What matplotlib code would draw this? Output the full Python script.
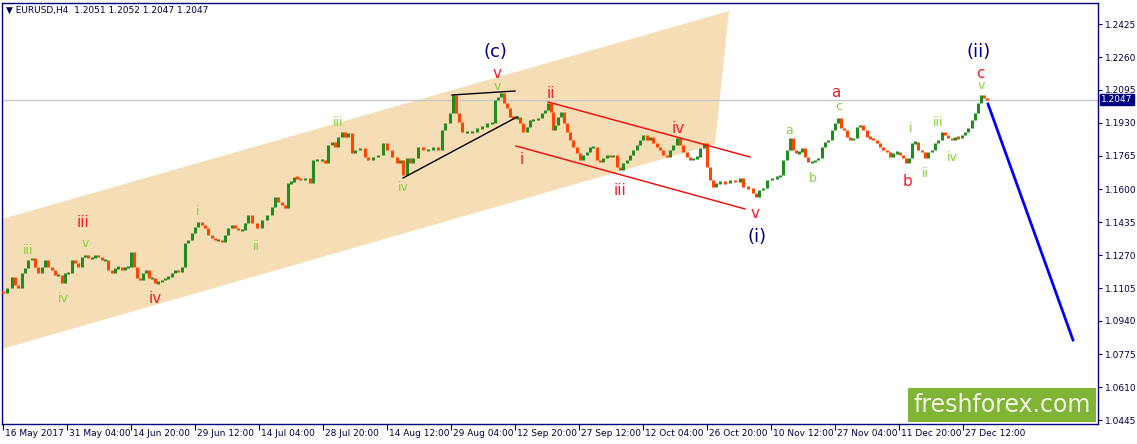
import numpy as np
import matplotlib.pyplot as plt
from matplotlib.patches import Polygon, Rectangle
import matplotlib.transforms as mtransforms

# EURUSD H4, bar number and close
bars = [3, 7, 12, 15, 18, 22, 25, 28, 32, 35, 38, 42, 45, 48, 52, 55, 58, 62, 65, 68,
        72, 75, 78, 82, 85, 88, 92, 95, 98, 102, 105, 108, 112, 115, 118, 122, 125, 128, 131, 134,
        137, 140, 143, 146, 149, 152, 155, 158, 162, 165, 168, 172, 175, 178, 182, 185, 188, 192, 195, 198,
        202, 205, 208, 212, 215, 218, 222, 225, 228, 232, 235, 238, 242, 245, 248, 252, 257, 262, 267, 272,
        275, 278, 282, 285, 288, 291, 294, 297, 300, 305, 310, 313, 317, 322, 325, 328, 332, 335, 338, 342,
        345, 348, 352, 355, 360, 365, 368, 373, 378, 383, 387, 392, 397, 400, 403, 407, 410, 413, 418, 423,
        428, 433, 438, 442, 445, 450, 453, 456, 459, 462, 467, 472, 477, 482, 487, 492, 495, 498, 501, 504,
        507, 510, 513, 517, 520, 523, 527, 530, 533, 538, 542, 545, 548, 551, 553, 555, 558, 561, 564, 567,
        570, 573, 577, 580, 583, 587, 590, 593, 597, 600, 603, 607, 610, 613, 617, 620, 623, 627, 630, 633,
        637, 640, 643, 647, 650, 653, 657, 660, 663, 667, 670, 673, 677, 680, 683, 687, 690, 693, 697, 700,
        704, 707, 710, 713, 716, 720, 725, 730, 735, 740, 743, 748, 753, 756, 759, 763, 767, 772, 777, 780,
        783, 787, 790, 793, 796, 799, 802, 805, 808, 812, 815, 818, 822, 825, 828, 832, 835, 838, 841, 844,
        847, 850, 853, 857, 860, 863, 867, 870, 873, 877, 880, 883, 887, 890, 893, 897, 900, 903, 906, 909,
        912, 915, 918, 922, 925, 928, 932, 935, 938, 942, 945, 948, 952, 955, 958, 962, 965, 968, 972, 975,
        978, 981, 984, 987]
close = [1.1080, 1.1105, 1.1160, 1.1120, 1.1105, 1.1180, 1.1205, 1.1245, 1.1255, 1.1210,
         1.1180, 1.1210, 1.1245, 1.1210, 1.1195, 1.1170, 1.1170, 1.1130, 1.1180, 1.1180,
         1.1245, 1.1230, 1.1210, 1.1260, 1.1270, 1.1255, 1.1255, 1.1270, 1.1260, 1.1245,
         1.1245, 1.1195, 1.1180, 1.1205, 1.1210, 1.1195, 1.1210, 1.1210, 1.1285, 1.1210,
         1.1155, 1.1145, 1.1180, 1.1195, 1.1155, 1.1155, 1.1130, 1.1135, 1.1145, 1.1155,
         1.1160, 1.1180, 1.1195, 1.1185, 1.1210, 1.1330, 1.1345, 1.1380, 1.1410, 1.1435,
         1.1420, 1.1405, 1.1370, 1.1355, 1.1345, 1.1345, 1.1335, 1.1370, 1.1405, 1.1420,
         1.1405, 1.1395, 1.1395, 1.1430, 1.1470, 1.1430, 1.1405, 1.1445, 1.1470, 1.1510,
         1.1560, 1.1535, 1.1520, 1.1505, 1.1630, 1.1635, 1.1660, 1.1655, 1.1645, 1.1655,
         1.1630, 1.1745, 1.1745, 1.1745, 1.1730, 1.1820, 1.1835, 1.1810, 1.1860, 1.1885,
         1.1860, 1.1880, 1.1780, 1.1795, 1.1805, 1.1760, 1.1745, 1.1760, 1.1770, 1.1830,
         1.1795, 1.1760, 1.1730, 1.1745, 1.1670, 1.1755, 1.1730, 1.1755, 1.1810, 1.1795,
         1.1795, 1.1810, 1.1795, 1.1895, 1.1930, 1.1980, 1.2070, 1.1980, 1.1935, 1.1885,
         1.1885, 1.1885, 1.1905, 1.1910, 1.1930, 1.1930, 1.2045, 1.2060, 1.2080, 1.2030,
         1.2005, 1.1960, 1.1955, 1.1960, 1.1930, 1.1885, 1.1910, 1.1945, 1.1945, 1.1955,
         1.1980, 1.1995, 1.2030, 1.1985, 1.1895, 1.1920, 1.1960, 1.1985, 1.1930, 1.1885,
         1.1845, 1.1810, 1.1780, 1.1745, 1.1770, 1.1785, 1.1810, 1.1810, 1.1745, 1.1735,
         1.1755, 1.1770, 1.1760, 1.1770, 1.1710, 1.1695, 1.1730, 1.1745, 1.1770, 1.1795,
         1.1820, 1.1845, 1.1870, 1.1845, 1.1860, 1.1830, 1.1810, 1.1795, 1.1770, 1.1760,
         1.1795, 1.1820, 1.1855, 1.1820, 1.1785, 1.1760, 1.1745, 1.1755, 1.1760, 1.1805,
         1.1830, 1.1710, 1.1645, 1.1610, 1.1630, 1.1635, 1.1630, 1.1645, 1.1635, 1.1655,
         1.1610, 1.1605, 1.1580, 1.1560, 1.1595, 1.1605, 1.1645, 1.1655, 1.1660, 1.1670,
         1.1745, 1.1795, 1.1855, 1.1795, 1.1780, 1.1785, 1.1805, 1.1760, 1.1735, 1.1735,
         1.1745, 1.1755, 1.1810, 1.1835, 1.1845, 1.1895, 1.1930, 1.1955, 1.1905, 1.1895,
         1.1860, 1.1845, 1.1855, 1.1910, 1.1920, 1.1895, 1.1860, 1.1855, 1.1845, 1.1830,
         1.1810, 1.1795, 1.1785, 1.1760, 1.1780, 1.1785, 1.1770, 1.1755, 1.1730, 1.1755,
         1.1830, 1.1835, 1.1795, 1.1785, 1.1755, 1.1785, 1.1795, 1.1830, 1.1845, 1.1885,
         1.1870, 1.1855, 1.1845, 1.1860, 1.1855, 1.1870, 1.1885, 1.1905, 1.1945, 1.1980,
         1.2030, 1.2070, 1.2055, 1.2047]

date_labels = ["16 May 2017", "31 May 04:00", "14 Jun 20:00", "29 Jun 12:00", "14 Jul 04:00",
               "28 Jul 20:00", "14 Aug 12:00", "29 Aug 04:00", "12 Sep 20:00", "27 Sep 12:00",
               "12 Oct 04:00", "26 Oct 20:00", "10 Nov 12:00", "27 Nov 04:00", "11 Dec 20:00",
               "27 Dec 12:00"]
price_ticks = [1.0445, 1.0610, 1.0775, 1.0940, 1.1105, 1.1270, 1.1435, 1.1600,
               1.1765, 1.1930, 1.2095, 1.2260, 1.2425]
last_price = 1.2047

# analysis objects (bar, price)
channel = [(2, 1.1450), (729, 1.2490), (715, 1.1825), (2, 1.0800)]
black_upper = [(452, 1.2070), (515, 1.2090)]
black_lower = [(403, 1.1655), (517, 1.1960)]
red_upper = [(548, 1.2035), (750, 1.1760)]
red_lower = [(516, 1.1815), (745, 1.1500)]
forecast = [(988, 1.2025), (1073, 1.0845)]

NAVY = '#000080'
RED = '#F01E2C'
GREEN = '#86D13E'
# text, bar, price, colour, size
waves = [
    ("(c)", 495, 1.2285, NAVY, 13), ("v", 497, 1.2180, RED, 11), ("v", 497, 1.2110, GREEN, 9),
    ("iii", 28, 1.1295, GREEN, 9), ("iii", 83, 1.1435, RED, 11), ("v", 85, 1.1330, GREEN, 9),
    ("iv", 63, 1.1055, GREEN, 9), ("iv", 155, 1.1055, RED, 11), ("i", 198, 1.1485, GREEN, 9),
    ("ii", 256, 1.1315, GREEN, 9), ("iii", 338, 1.1930, GREEN, 9), ("iv", 403, 1.1610, GREEN, 9),
    ("i", 522, 1.1745, RED, 11), ("ii", 551, 1.2080, RED, 11), ("iii", 620, 1.1595, RED, 11),
    ("iv", 678, 1.1905, RED, 11), ("v", 755, 1.1480, RED, 11), ("(i)", 757, 1.1360, NAVY, 13),
    ("a", 789, 1.1895, GREEN, 9), ("b", 813, 1.1655, GREEN, 9), ("c", 839, 1.2010, GREEN, 9),
    ("a", 836, 1.2085, RED, 11), ("b", 907, 1.1640, RED, 11), ("i", 911, 1.1905, GREEN, 9),
    ("ii", 925, 1.1680, GREEN, 9), ("iii", 938, 1.1930, GREEN, 9), ("iv", 952, 1.1760, GREEN, 9),
    ("v", 981, 1.2120, GREEN, 9), ("c", 980, 1.2180, RED, 11), ("(ii)", 979, 1.2285, NAVY, 13),
]

W, H = 1137, 444
fig = plt.figure(figsize=(W / 100, H / 100), dpi=100)
ax = fig.add_axes([2 / W, 20 / H, 1096 / W, 421 / H])
ax.set_xlim(2, 1098)
ax.set_ylim(1.0425, 1.2530)

# channel in background
ax.add_patch(Polygon(channel, closed=True, facecolor='#F5DEB5', edgecolor='none', zorder=0))
ax.axhline(last_price, color='#C8C8C8', lw=1, zorder=1)

# candles
opens = [close[0] + 0.0010] + close[:-1]
cols = ['#228B22' if c >= o else '#FF4500' for o, c in zip(opens, close)]
lo = np.minimum(opens, close)
hi = np.maximum(opens, close)
mid = (lo + hi) / 2
half = np.maximum((hi - lo) / 2, 0.0006)
ax.vlines(bars, mid - half, mid + half, colors=cols, lw=2.2, zorder=3)

for seg, c, lw in [(black_upper, 'black', 1), (black_lower, 'black', 1),
                   (red_upper, '#FF0000', 1), (red_lower, '#FF0000', 1),
                   (forecast, '#0000FF', 2)]:
    xs, ys = zip(*seg)
    ax.plot(xs, ys, color=c, lw=lw, zorder=4)

for t, b, p, c, s in waves:
    ax.text(b, p, t, color=c, fontsize=s, ha='center', va='center', zorder=5)

# axes styling
for sp in ax.spines.values():
    sp.set_color(NAVY)
    sp.set_linewidth(1)
ax.yaxis.tick_right()
ax.set_yticks(price_ticks)
ax.set_yticklabels([f"{v:.4f}" for v in price_ticks])
ax.tick_params(axis='y', colors=NAVY, labelsize=6.5, length=3, pad=2, labelcolor='#000040')
tick_pos = [3 + 64 * i for i in range(len(date_labels))]
ax.set_xticks(tick_pos)
ax.set_xticklabels([])
ax.tick_params(axis='x', colors=NAVY, length=4)
trans = mtransforms.blended_transform_factory(ax.transData, ax.transAxes)
for x, lab in zip(tick_pos, date_labels):
    ax.text(x + 2, -0.012, lab, transform=trans, ha='left', va='top',
            fontsize=6.5, color='#000040')

# current price box
ax.text(1.003, last_price, f"{last_price:.4f}", transform=ax.get_yaxis_transform(),
        ha='left', va='center', fontsize=6.5, color='white', clip_on=False,
        bbox=dict(boxstyle='square,pad=0.15', facecolor=NAVY, edgecolor=NAVY))

ax.text(0.004, 0.982, "\u25bc EURUSD,H4  1.2051 1.2052 1.2047 1.2047", transform=ax.transAxes,
        ha='left', va='center', fontsize=6.5, color='#000040')

# watermark
ax.add_patch(Rectangle((906 / 1096, 0.005), 188 / 1096, 34 / 421, transform=ax.transAxes,
                       facecolor='#80B437', edgecolor='none', zorder=6))
ax.text((906 + 94) / 1096, 0.005 + 17 / 421, "freshforex.com", transform=ax.transAxes,
        ha='center', va='center', fontsize=17, color='#F2F5E6', zorder=7)

fig.savefig('out.png', dpi=100)
